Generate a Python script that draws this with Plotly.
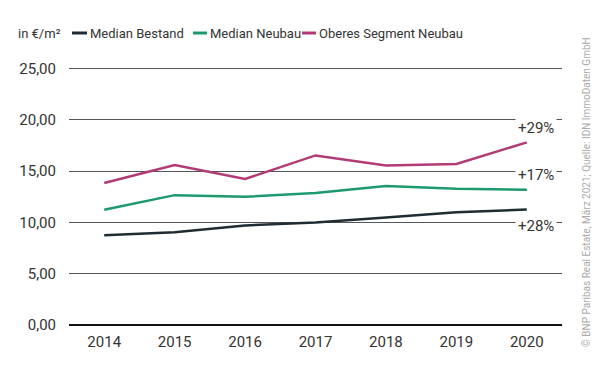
import plotly.graph_objects as go

years = ["2014", "2015", "2016", "2017", "2018", "2019", "2020"]
median_bestand = [8.76, 9.05, 9.70, 9.99, 10.48, 11.00, 11.26]
median_neubau = [11.23, 12.66, 12.50, 12.86, 13.54, 13.28, 13.18]
oberes_segment = [13.84, 15.60, 14.23, 16.53, 15.56, 15.69, 17.80]
series_names = ["Median Bestand", "Median Neubau", "Oberes Segment Neubau"]
change_labels = ["+28%", "+17%", "+29%"]
label_y = [9.67, 14.65, 19.2]
y_ticks = [0, 5, 10, 15, 20, 25]
y_tick_text = ["0,00", "5,00", "10,00", "15,00", "20,00", "25,00"]
unit_label = "in €/m²"
source_text = "© BNP Paribas Real Estate, März 2021; Quelle: IDN ImmoDaten GmbH"

colors = ["#1f2c33", "#1d9a6c", "#b23a76"]
FONT = "Roboto"
W, H = 600, 377
L, R, T, B = 69, 38, 67, 52
pw = W - L - R
ph = H - T - B


def px_x(x):
    return (x - L) / pw


def px_y(y):
    return (H - B - y) / ph


fig = go.Figure()
for name, vals, col in zip(series_names, [median_bestand, median_neubau, oberes_segment], colors):
    fig.add_trace(go.Scatter(x=years, y=vals, mode="lines", name=name,
                             line=dict(color=col, width=2.5), showlegend=False))

# percent labels
for txt, yv in zip(change_labels, label_y):
    fig.add_annotation(x=px_x(536), xref="paper", y=yv, yref="y", text=txt,
                       showarrow=False, xanchor="center", yanchor="middle",
                       font=dict(family=FONT, size=15, color="#333333"),
                       bgcolor="white", borderpad=2)

# manual legend
leg_y = px_y(33)
legend_pos = [(72, 87, 88), (193, 207, 208), (302, 316, 317)]
for name, col, (x0, x1, xt) in zip(series_names, colors, legend_pos):
    fig.add_shape(type="line", xref="paper", yref="paper",
                  x0=px_x(x0), x1=px_x(x1), y0=leg_y, y1=leg_y,
                  line=dict(color=col, width=3))
    fig.add_annotation(x=px_x(xt), xref="paper", y=leg_y, yref="paper", text=name,
                       showarrow=False, xanchor="left", yanchor="middle",
                       font=dict(family=FONT, size=13, color="#333333"))
fig.add_annotation(x=px_x(16), xref="paper", y=leg_y, yref="paper", text=unit_label,
                   showarrow=False, xanchor="left", yanchor="middle",
                   font=dict(family=FONT, size=13, color="#333333"))

# source
fig.add_annotation(x=px_x(586), xref="paper", y=px_y(192), yref="paper",
                   text=source_text, textangle=-90, showarrow=False,
                   xanchor="center", yanchor="middle",
                   font=dict(family=FONT, size=10, color="#aaaaaa"))

fig.update_layout(
    width=W, height=H, margin=dict(l=L, r=R, t=T, b=B),
    paper_bgcolor="white", plot_bgcolor="white",
    font=dict(family=FONT, size=15, color="#333333"),
)
fig.update_xaxes(type="category", range=[-0.5, 6.5], showgrid=False, showline=False,
                 zeroline=False, ticks="", ticklabelstandoff=6,
                 tickfont=dict(family=FONT, size=15, color="#333333"))
fig.update_yaxes(range=[0, 25.15], tickvals=y_ticks, ticktext=y_tick_text,
                 showgrid=True, gridcolor="#555555", gridwidth=1,
                 zeroline=True, zerolinecolor="#111111", zerolinewidth=2,
                 showline=False, ticks="", ticklabelstandoff=12,
                 tickfont=dict(family=FONT, size=15, color="#333333"))

fig.write_html("out.html", config={"displayModeBar": False},
               post_script="document.body.style.margin='0';")
